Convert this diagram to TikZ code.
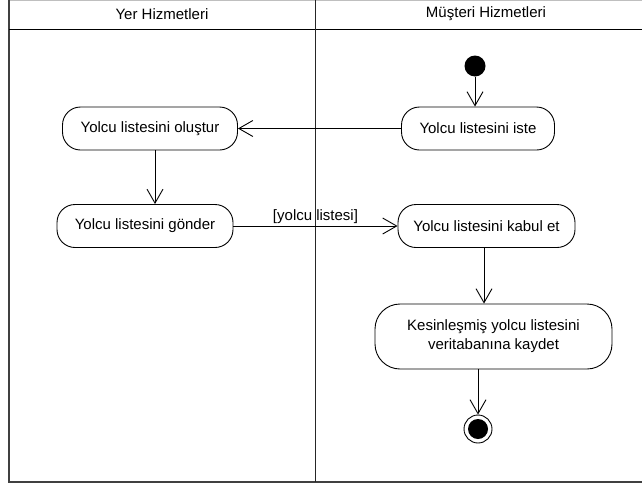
\documentclass[tikz,border=0pt]{standalone}
\usepackage{fontspec}
\setmainfont{Liberation Sans}
\usetikzlibrary{arrows.meta}

\begin{document}
\begin{tikzpicture}[x=1pt, y=-1pt, font=\fontsize{15}{19}\selectfont,
  act/.style={draw, line width=0.9pt, rounded corners=18pt, minimum height=43pt, inner sep=0pt, align=center, fill=white},
  flow/.style={->, line width=0.9pt}, >={Straight Barb[length=14pt, width=16pt]}]
\useasboundingbox (0,0) rectangle (642,485);
\draw[black!25] (9,0.5)--(642,0.5);
\draw[black!75, line width=1.6pt] (9,0)--(9,482)--(642,482);
\draw[line width=1.3pt] (9,29.5)--(642,29.5);
\draw[black!85, line width=1pt] (315,0)--(315,482);
\node (yer) at (162,14) {Yer Hizmetleri};
\node (musteri) at (486,14) {Müşteri Hizmetleri};
\node[circle, fill, minimum size=21pt, inner sep=0pt] (start) at (475,66) {};
\node[act, minimum width=153pt] (iste) at (478,128.5) {Yolcu listesini iste};
\node[act, minimum width=175pt] (olustur) at (150,128.5) {Yolcu listesini oluştur};
\node[act, minimum width=176pt] (gonder) at (145,226) {Yolcu listesini gönder};
\node[act, minimum width=177pt] (kabul) at (486.5,226) {Yolcu listesini kabul et};
\node[act, minimum width=237pt, minimum height=65pt, rounded corners=25pt] (kaydet) at (493.5,336.5) {Kesinleşmiş yolcu listesini\\veritabanına kaydet};
\node[circle, draw, fill=white, line width=0.9pt, minimum size=28pt, inner sep=0pt] (end) at (478,429) {};
\node[circle, fill, minimum size=20pt, inner sep=0pt] (endcore) at (end) {};
\draw[flow] (start)--(start |- iste.north);
\draw[flow] (iste)--(olustur);
\draw[flow] ([xshift=5pt]olustur.south)--([xshift=5pt]olustur.south |- gonder.north);
\draw[flow] (gonder)--node[above, inner sep=2pt] (etiket) {[yolcu listesi]} (kabul);
\draw[flow] ([xshift=-2.5pt]kabul.south)--([xshift=-2.5pt]kabul.south |- kaydet.north);
\draw[flow] (kaydet.south -| end)--(end);
\end{tikzpicture}
\end{document}
